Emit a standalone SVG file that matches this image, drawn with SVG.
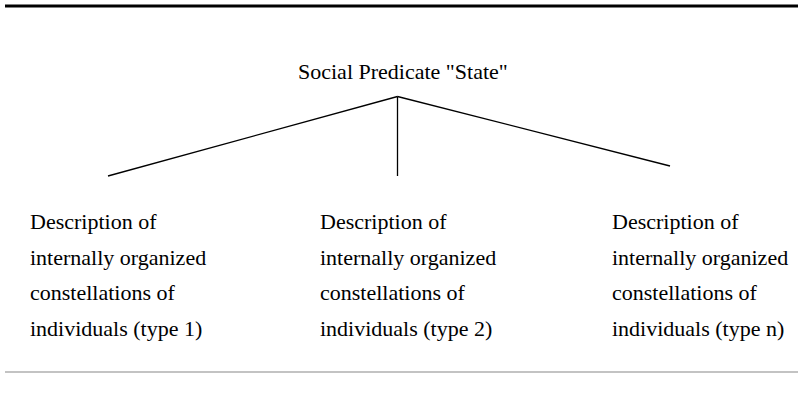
<svg xmlns="http://www.w3.org/2000/svg" width="798" height="402" viewBox="0 0 798 402">
<style>
text{font-family:"Liberation Serif","Times New Roman",serif;font-size:22px;fill:#000}
.c{stroke:#000;stroke-width:1.3;fill:none}
</style>
<rect x="0" y="0" width="798" height="402" fill="#fff"/>
<rect id="top-rule" x="5" y="4.5" width="793" height="3" fill="#000"/>
<line id="bottom-rule" x1="5" y1="372" x2="798" y2="372" stroke="#888" stroke-width="1.2"/>
<g id="root"><text x="298" y="79">Social Predicate "State"</text></g>
<g id="connectors">
<line class="c" x1="397.5" y1="96.5" x2="108" y2="176"/>
<line class="c" x1="397.5" y1="96.5" x2="397.5" y2="176"/>
<line class="c" x1="397.5" y1="96.5" x2="670" y2="166"/>
</g>
<g id="type1"><text x="30" y="229">Description of</text><text x="30" y="265">internally organized</text><text x="30" y="300">constellations of</text><text x="30" y="336">individuals (type 1)</text></g>
<g id="type2"><text x="320" y="229">Description of</text><text x="320" y="265">internally organized</text><text x="320" y="300">constellations of</text><text x="320" y="336">individuals (type 2)</text></g>
<g id="typen"><text x="612" y="229">Description of</text><text x="612" y="265">internally organized</text><text x="612" y="300">constellations of</text><text x="612" y="336">individuals (type n)</text></g>
</svg>
